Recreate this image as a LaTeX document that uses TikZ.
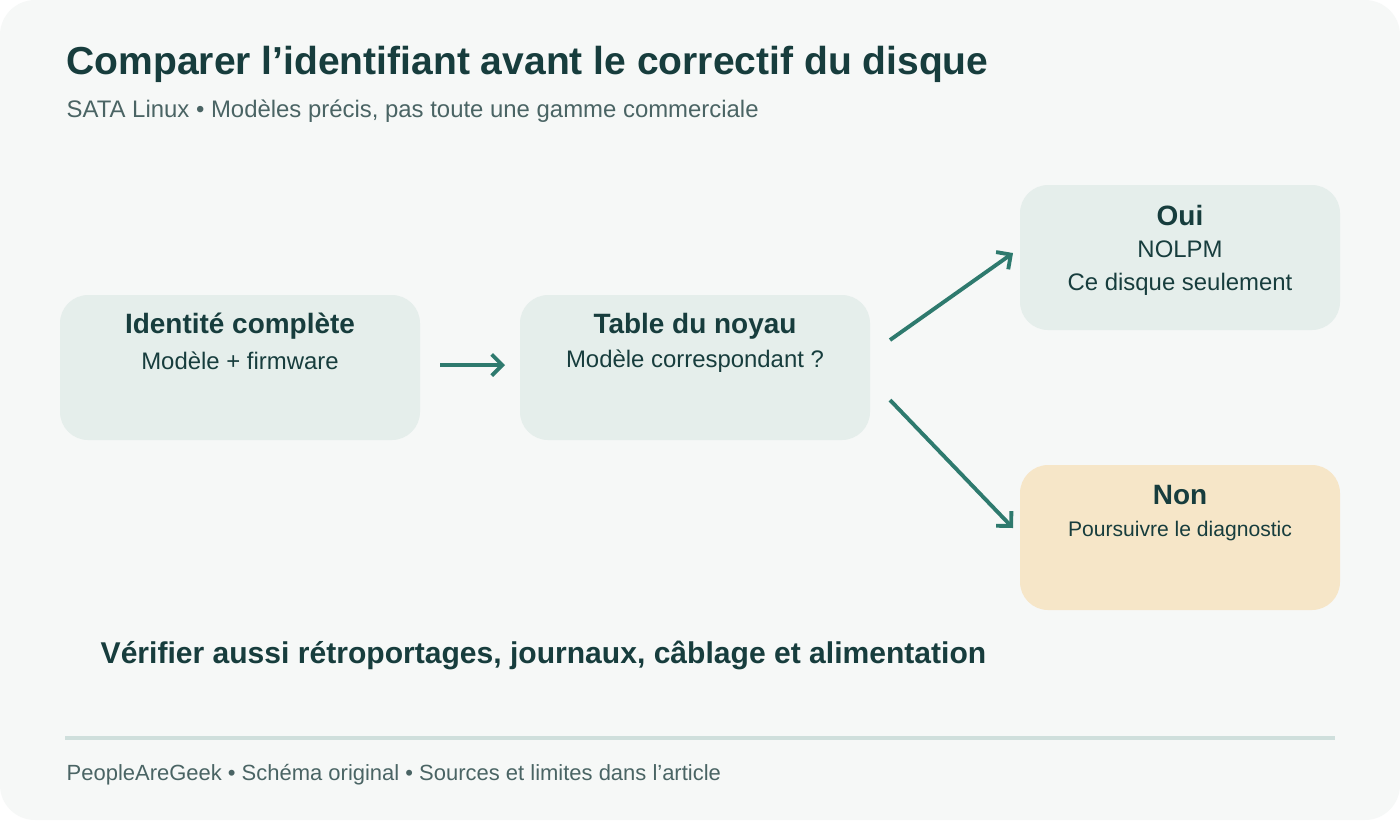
\documentclass[tikz,border=0pt]{standalone}
\usepackage{fontspec}
\setmainfont{Liberation Sans}
\usetikzlibrary{positioning,arrows.meta}
\definecolor{ink}{HTML}{173D3D}
\definecolor{inksoft}{HTML}{4A6464}
\definecolor{boxgreen}{HTML}{E5EEEB}
\definecolor{boxsand}{HTML}{F6E6C8}
\definecolor{pagebg}{HTML}{F6F8F7}
\definecolor{arrowgreen}{HTML}{2E7A6E}
\definecolor{rulegray}{HTML}{CFDFDC}
\tikzset{
  box/.style={rounded corners=8pt, fill=boxgreen, draw=none},
  head/.style={font=\fontsize{7.95}{9}\selectfont\bfseries, text=ink},
  body/.style={font=\fontsize{6.8}{8}\selectfont, text=ink},
  flow/.style={draw=arrowgreen, line width=1.1pt, -{Straight Barb[length=3pt,width=6pt]}}
}
\begin{document}
\begin{tikzpicture}[x=0.01cm, y=-0.01cm]

    % page
    \fill[white] (0,0) rectangle (1400,820);
    \fill[pagebg, rounded corners=10pt] (0,0) rectangle (1400,820);
    \useasboundingbox (0,0) rectangle (1400,820);

    % title and subtitle
    \node[anchor=west, inner sep=0pt, text=ink, font=\fontsize{11.1}{13}\selectfont\bfseries] (title) at (66,64) {Comparer l’identifiant avant le correctif du disque};
    \node[anchor=west, inner sep=0pt, text=inksoft, font=\fontsize{6.8}{8}\selectfont] (subtitle) at (66,111) {SATA Linux • Modèles précis, pas toute une gamme commerciale};

    % boxes
    \fill[box] (60,295) rectangle (420,440);
    \fill[box] (520,295) rectangle (870,440);
    \fill[box] (1020,185) rectangle (1340,330);
    \fill[box, fill=boxsand] (1020,465) rectangle (1340,610);

    \node[head] (idhead) at (240,326) {Identité complète};
    \node[body] (idbody) at (240,361) {Modèle + firmware};
    \node[head] (tabhead) at (695,326) {Table du noyau};
    \node[body] (tabbody) at (695,361) {Modèle correspondant ?};
    \node[head] (ouihead) at (1180,215) {Oui};
    \node[body] (ouibody) at (1180,249) {NOLPM};
    \node[body] (ouinote) at (1180,284) {Ce disque seulement};
    \node[head] (nonhead) at (1180,495) {Non};
    \node[body, font=\fontsize{6.0}{7}\selectfont] (nonbody) at (1180,531) {Poursuivre le diagnostic};

    % connectors
    \coordinate (idout) at (440,365);
    \coordinate (tabin) at (505,365);
    \coordinate (tabup) at (890,340);
    \coordinate (ouiin) at (1013,253);
    \coordinate (tabdown) at (890,400);
    \coordinate (nonin) at (1013,528);
    \draw[flow] (idout) -- (tabin);
    \draw[flow] (tabup) -- (ouiin);
    \draw[flow] (tabdown) -- (nonin);

    % note and footer
    \node[anchor=west, inner sep=0pt, text=ink, font=\fontsize{8.55}{10}\selectfont\bfseries] (note) at (100,655) {Vérifier aussi rétroportages, journaux, câblage et alimentation};
    \draw[rulegray, line width=1.3pt] (65,738) -- (1335,738);
    \node[anchor=west, inner sep=0pt, text=inksoft, font=\fontsize{6.25}{7}\selectfont] (footer) at (66,775) {PeopleAreGeek • Schéma original • Sources et limites dans l’article};
\end{tikzpicture}
\end{document}
